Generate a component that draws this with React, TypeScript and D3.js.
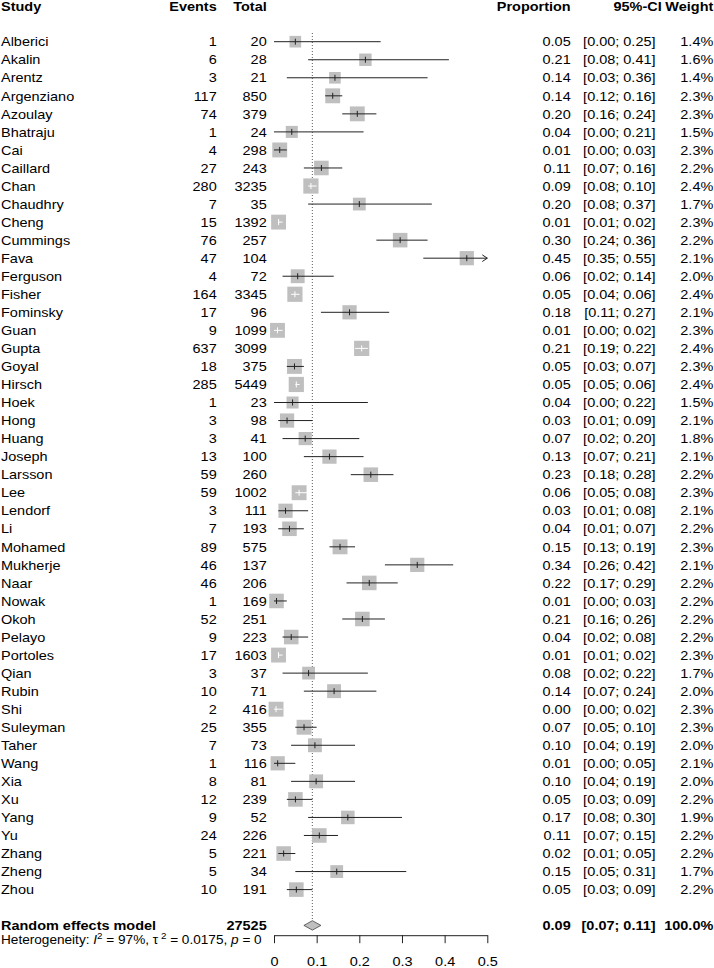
import React, { useEffect, useRef } from "react"
import * as d3 from "d3"

const studies = [
  "Alberici", "Akalin", "Arentz", "Argenziano", "Azoulay", "Bhatraju", "Cai", "Caillard",
  "Chan", "Chaudhry", "Cheng", "Cummings", "Fava", "Ferguson", "Fisher", "Fominsky",
  "Guan", "Gupta", "Goyal", "Hirsch", "Hoek", "Hong", "Huang", "Joseph",
  "Larsson", "Lee", "Lendorf", "Li", "Mohamed", "Mukherje", "Naar", "Nowak",
  "Okoh", "Pelayo", "Portoles", "Qian", "Rubin", "Shi", "Suleyman", "Taher",
  "Wang", "Xia", "Xu", "Yang", "Yu", "Zhang", "Zheng", "Zhou"
]
const events = [
  1, 6, 3, 117, 74, 1, 4, 27, 280, 7, 15, 76, 47, 4, 164, 17,
  9, 637, 18, 285, 1, 3, 3, 13, 59, 59, 3, 7, 89, 46, 46, 1,
  52, 9, 17, 3, 10, 2, 25, 7, 1, 8, 12, 9, 24, 5, 5, 10
]
const totals = [
  20, 28, 21, 850, 379, 24, 298, 243, 3235, 35, 1392, 257, 104, 72, 3345, 96,
  1099, 3099, 375, 5449, 23, 98, 41, 100, 260, 1002, 111, 193, 575, 137, 206, 169,
  251, 223, 1603, 37, 71, 416, 355, 73, 116, 81, 239, 52, 226, 221, 34, 191
]
const proportions = [
  0.05, 0.21, 0.14, 0.14, 0.20, 0.04, 0.01, 0.11, 0.09, 0.20, 0.01, 0.30, 0.45, 0.06, 0.05, 0.18,
  0.01, 0.21, 0.05, 0.05, 0.04, 0.03, 0.07, 0.13, 0.23, 0.06, 0.03, 0.04, 0.15, 0.34, 0.22, 0.01,
  0.21, 0.04, 0.01, 0.08, 0.14, 0.00, 0.07, 0.10, 0.01, 0.10, 0.05, 0.17, 0.11, 0.02, 0.15, 0.05
]
const lowers = [
  0.00, 0.08, 0.03, 0.12, 0.16, 0.00, 0.00, 0.07, 0.08, 0.08, 0.01, 0.24, 0.35, 0.02, 0.04, 0.11,
  0.00, 0.19, 0.03, 0.05, 0.00, 0.01, 0.02, 0.07, 0.18, 0.05, 0.01, 0.01, 0.13, 0.26, 0.17, 0.00,
  0.16, 0.02, 0.01, 0.02, 0.07, 0.00, 0.05, 0.04, 0.00, 0.04, 0.03, 0.08, 0.07, 0.01, 0.05, 0.03
]
const uppers = [
  0.25, 0.41, 0.36, 0.16, 0.24, 0.21, 0.03, 0.16, 0.10, 0.37, 0.02, 0.36, 0.55, 0.14, 0.06, 0.27,
  0.02, 0.22, 0.07, 0.06, 0.22, 0.09, 0.20, 0.21, 0.28, 0.08, 0.08, 0.07, 0.19, 0.42, 0.29, 0.03,
  0.26, 0.08, 0.02, 0.22, 0.24, 0.02, 0.10, 0.19, 0.05, 0.19, 0.09, 0.30, 0.15, 0.05, 0.31, 0.09
]
const weights = [
  1.4, 1.6, 1.4, 2.3, 2.3, 1.5, 2.3, 2.2, 2.4, 1.7, 2.3, 2.2, 2.1, 2.0, 2.4, 2.1,
  2.3, 2.4, 2.3, 2.4, 1.5, 2.1, 1.8, 2.1, 2.2, 2.3, 2.1, 2.2, 2.3, 2.1, 2.2, 2.2,
  2.2, 2.2, 2.3, 1.7, 2.0, 2.3, 2.3, 2.0, 2.1, 2.0, 2.2, 1.9, 2.2, 2.2, 1.7, 2.2
]
// studies whose CI sits inside the square (drawn white)
const whiteCI = ["Chan", "Cheng", "Fisher", "Guan", "Gupta", "Hirsch", "Lee", "Portoles", "Shi"]

const pooled = { label: "Random effects model", total: 27525, est: 0.09, lo: 0.07, hi: 0.11, weight: 100 }
const tickValues = [0, 0.1, 0.2, 0.3, 0.4, 0.5]
const tickLabels = ["0", "0.1", "0.2", "0.3", "0.4", "0.5"]

const W = 714
const H = 968
const FONT = "'Liberation Sans', Arial, Helvetica, sans-serif"
const FS = 13.4
const SX = 1.08

export default function App() {
  const ref = useRef<SVGSVGElement>(null)

  useEffect(() => {
    const svg = d3.select(ref.current)
    svg.selectAll("*").remove()

    const x = d3.scaleLinear().domain([0, 0.5]).range([274, 487.3])
    const y = d3.scaleLinear().domain([0, studies.length - 1]).range([41.7, 889.6])
    const side = d3.scaleSqrt().domain([0, 2.4]).range([0, 15.2])
    const f2 = d3.format(".2f")
    const f1 = d3.format(".1f")

    const col = { study: 1, events: 216.7, total: 266.7, prop: 570.7, ci: 655.5, ciHead: 661.7, weight: 713.3 }

    const g = svg.append("g").attr("font-family", FONT).attr("font-size", FS)

    const text = (tx: number, ty: number, s: string, anchor = "start", bold = false) =>
      g.append("text")
        .attr("transform", `translate(${tx},${ty}) scale(${SX},1)`)
        .attr("dy", "0.35em")
        .attr("text-anchor", anchor)
        .attr("font-weight", bold ? "bold" : "normal")
        .attr("fill", "#000")
        .text(s)

    // header
    const hy = 6.6
    text(col.study, hy, "Study", "start", true)
    text(col.events, hy, "Events", "end", true)
    text(col.total, hy, "Total", "end", true)
    text(col.prop, hy, "Proportion", "end", true)
    text(col.ciHead, hy, "95%-CI", "end", true)
    text(col.weight, hy, "Weight", "end", true)

    const yPool = 925.4

    // reference line at pooled estimate
    g.append("line")
      .attr("x1", x(pooled.est)).attr("x2", x(pooled.est))
      .attr("y1", 33).attr("y2", yPool - 4.7)
      .attr("stroke", "#777").attr("stroke-width", 1.2)
      .attr("stroke-dasharray", "1,2")

    // study rows
    studies.forEach((name, i) => {
      const cy = y(i)
      const est = events[i] / totals[i]
      const s = side(weights[i])
      const color = whiteCI.includes(name) ? "#fff" : "#222"

      text(col.study, cy, name)
      text(col.events, cy, String(events[i]), "end")
      text(col.total, cy, String(totals[i]), "end")
      text(col.prop, cy, f2(proportions[i]), "end")
      text(col.ci, cy, `[${f2(lowers[i])}; ${f2(uppers[i])}]`, "end")
      text(col.weight, cy, `${f1(weights[i])}%`, "end")

      g.append("rect")
        .attr("x", x(est) - s / 2).attr("y", cy - s / 2)
        .attr("width", s).attr("height", s)
        .attr("fill", "#bfbfbf")

      const hiClip = Math.min(uppers[i], x.domain()[1])
      g.append("line")
        .attr("x1", x(lowers[i])).attr("x2", x(hiClip))
        .attr("y1", cy).attr("y2", cy)
        .attr("stroke", color).attr("stroke-width", 1)
      g.append("line")
        .attr("x1", x(est)).attr("x2", x(est))
        .attr("y1", cy - 3).attr("y2", cy + 3)
        .attr("stroke", color).attr("stroke-width", 1)

      if (uppers[i] > x.domain()[1]) {
        const tx = x(x.domain()[1])
        g.append("path")
          .attr("d", `M${tx - 5},${cy - 3.3}L${tx},${cy}L${tx - 5},${cy + 3.3}`)
          .attr("fill", "none").attr("stroke", color).attr("stroke-width", 1)
      }
    })

    // pooled row
    text(col.study, yPool, pooled.label, "start", true)
    text(col.total, yPool, String(pooled.total), "end", true)
    text(col.prop, yPool, f2(pooled.est), "end", true)
    text(col.ci, yPool, `[${f2(pooled.lo)}; ${f2(pooled.hi)}]`, "end", true)
    text(col.weight, yPool, `${f1(pooled.weight)}%`, "end", true)

    g.append("path")
      .attr("d", `M${x(pooled.lo)},${yPool}L${x(pooled.est)},${yPool - 4.7}L${x(pooled.hi)},${yPool}L${x(pooled.est)},${yPool + 4.7}Z`)
      .attr("fill", "#bfbfbf").attr("stroke", "#444").attr("stroke-width", 0.8)

    // heterogeneity
    const hfs = 12.6
    const het = g.append("text")
      .attr("transform", `translate(${col.study},944) scale(${SX},1)`)
      .attr("font-size", hfs)
      .attr("fill", "#000")
    het.append("tspan").text("Heterogeneity: ")
    het.append("tspan").attr("font-style", "italic").text("I")
    het.append("tspan").attr("font-size", hfs * 0.72).attr("dy", -5).text("2")
    het.append("tspan").attr("dy", 5).text(" = 97%, \u03c4")
    het.append("tspan").attr("font-size", hfs * 0.72).attr("dy", -5).text(" 2")
    het.append("tspan").attr("dy", 5).text(" = 0.0175, ")
    het.append("tspan").attr("font-style", "italic").text("p")
    het.append("tspan").text(" = 0")

    // axis
    const axis = d3.axisBottom(x)
      .tickValues(tickValues)
      .tickFormat((d, i) => tickLabels[i])
      .tickSize(8)
      .tickSizeOuter(0)
      .tickPadding(13)
    const ag = svg.append("g").attr("transform", "translate(0,935.2)").call(axis)
    ag.select(".domain").attr("stroke", "#222")
    ag.selectAll(".tick line").attr("stroke", "#222")
    ag.selectAll(".tick text")
      .attr("font-family", FONT).attr("font-size", FS).attr("fill", "#000")
      .attr("transform", `scale(${SX},1)`)
  }, [])

  return (
    <svg
      ref={ref}
      width={W}
      height={H}
      style={{ position: "absolute", left: 0, top: 0, background: "#fff" }}
    />
  )
}
